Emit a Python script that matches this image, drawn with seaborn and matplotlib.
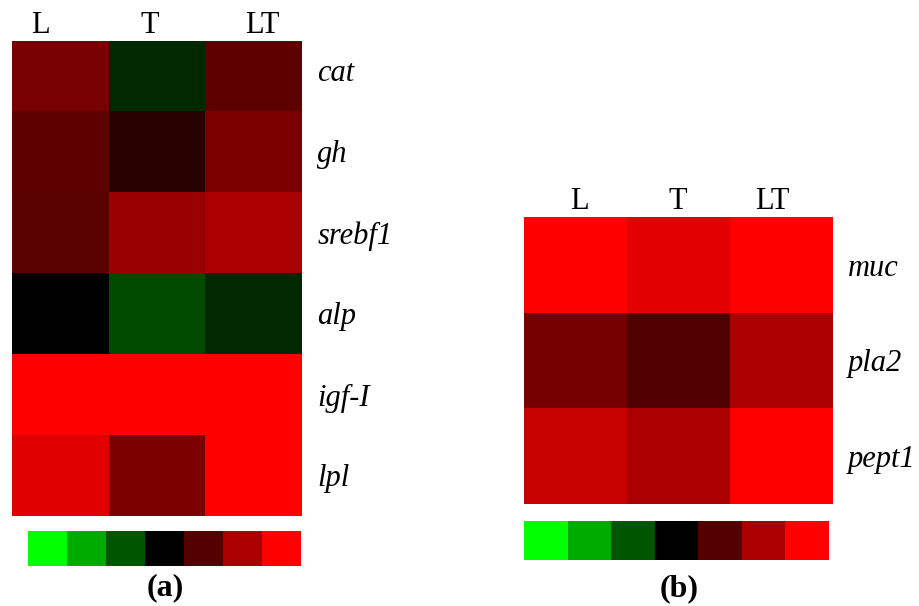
import numpy as np
import pandas as pd
import matplotlib
matplotlib.use("Agg")
import matplotlib.pyplot as plt
import seaborn as sns
from matplotlib.colors import LinearSegmentedColormap

# ---- data ----
treatments = ["L", "T", "LT"]

genes_a = ["cat", "gh", "srebf1", "alp", "igf-I", "lpl"]
L_a = [0.47, 0.36, 0.35, 0.00, 1.00, 0.88]
T_a = [-0.16, 0.15, 0.60, -0.29, 1.00, 0.48]
LT_a = [0.36, 0.48, 0.67, -0.16, 1.00, 1.00]

genes_b = ["muc", "pla2", "pept1"]
L_b = [1.00, 0.46, 0.78]
T_b = [0.89, 0.32, 0.67]
LT_b = [1.00, 0.67, 1.00]

legend_levels = [-1.0, -0.667, -0.333, 0.0, 0.333, 0.667, 1.0]

# ---- style ----
sns.set_theme(style="white")
plt.rcParams['font.family'] = ['Liberation Serif', 'DejaVu Serif']
plt.rcParams['text.color'] = 'black'
plt.rcParams['xtick.color'] = 'black'
plt.rcParams['ytick.color'] = 'black'

cmap = LinearSegmentedColormap.from_list("gkr", ["#00ff00", "#000000", "#ff0000"])

W, H = 919, 606
fig = plt.figure(figsize=(W / 100, H / 100), dpi=100)


def add_ax(x0, y0, x1, y1):
    return fig.add_axes([x0 / W, 1 - y1 / H, (x1 - x0) / W, (y1 - y0) / H])


def draw_panel(ax, genes, L, T, LT, xtick_pos, top_crop=0.0):
    df = pd.DataFrame({"L": L, "T": T, "LT": LT}, index=genes)[treatments]
    sns.heatmap(df, ax=ax, cmap=cmap, vmin=-1, vmax=1, cbar=False)
    ax.set_xlabel("")
    ax.set_ylabel("")
    ax.xaxis.tick_top()
    ax.set_xticks(xtick_pos)
    ax.set_xticklabels(treatments, fontsize=22, rotation=0, color="black")
    ax.yaxis.tick_right()
    ax.set_yticks(np.arange(len(genes)) + 0.5)
    ax.set_yticklabels(genes, fontsize=22, rotation=0, style="italic", color="black")
    ax.tick_params(axis="x", length=0, pad=1)
    ax.tick_params(axis="y", length=0, pad=11)
    ax.set_ylim(len(genes), top_crop)


def draw_legend(ax):
    sns.heatmap(pd.DataFrame([legend_levels]), ax=ax, cmap=cmap, vmin=-1, vmax=1,
                cbar=False, xticklabels=False, yticklabels=False)
    ax.set_xlabel("")
    ax.set_ylabel("")


ax_a = add_ax(12, 41, 302, 516)
draw_panel(ax_a, genes_a, L_a, T_a, LT_a, [0.29, 1.43, 2.59], top_crop=0.136)

ax_b = add_ax(524, 217, 833, 504)
draw_panel(ax_b, genes_b, L_b, T_b, LT_b, [0.54, 1.49, 2.41])

leg_a = add_ax(28, 531, 301, 566)
draw_legend(leg_a)

leg_b = add_ax(524, 521, 829, 560)
draw_legend(leg_b)

fig.text(165 / W, 1 - 588 / H, "(a)", ha="center", va="center", fontsize=23,
         fontweight="bold", color="black")
fig.text(679 / W, 1 - 589 / H, "(b)", ha="center", va="center", fontsize=23,
         fontweight="bold", color="black")

fig.savefig("out.png", dpi=100)
